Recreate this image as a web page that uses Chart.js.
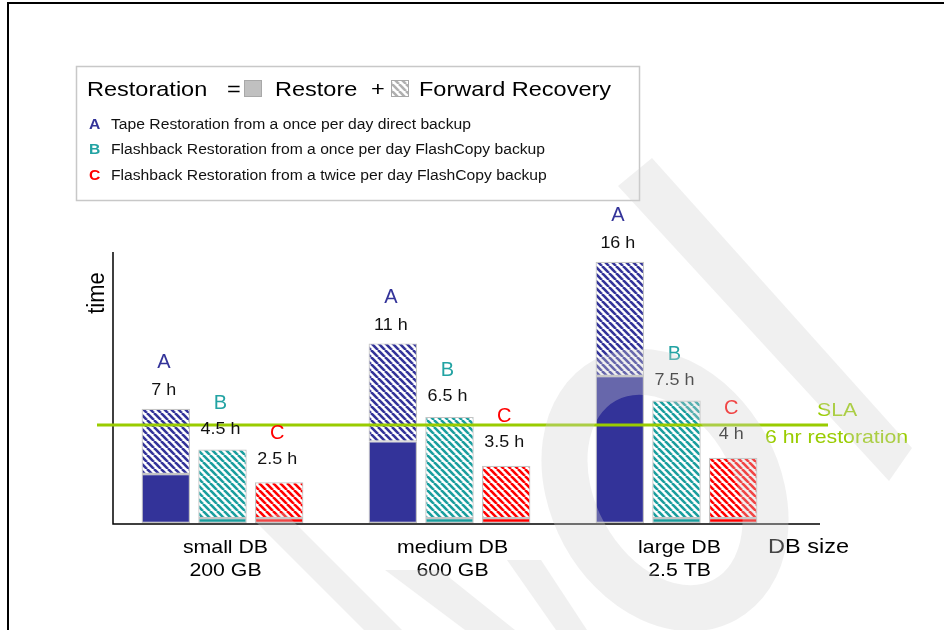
<!DOCTYPE html>
<html>
<head>
<meta charset="utf-8">
<script src="https://cdn.jsdelivr.net/npm/chart.js@4.4.1/dist/chart.umd.min.js"></script>
<style>
  html, body { margin: 0; padding: 0; background: #fff; }
</style>
</head>
<body>
<canvas id="restore" width="944" height="630"></canvas>
<script>
// horas de restauracion por tamano de base de datos
var categorias = [["small DB", "200 GB"], ["medium DB", "600 GB"], ["large DB", "2.5 TB"]];
var series = ["A", "B", "C"];
var totalA = [7, 11, 16];
var totalB = [4.5, 6.5, 7.5];
var totalC = [2.5, 3.5, 4];
var restoreA = [3, 5, 9];
var restoreB = [0.3, 0.3, 0.3];
var restoreC = [0.3, 0.3, 0.3];
var sla = 6;
var descripciones = [
  "Tape Restoration from a once per day direct backup",
  "Flashback Restoration from a once per day FlashCopy backup",
  "Flashback Restoration from a twice per day FlashCopy backup"
];

var colores = ["#333399", "#1a9e9e", "#ff0000"];
var coloresLetra = ["#333399", "#22a3a3", "#ff0000"];
var FUENTE = "'Liberation Sans', Arial, sans-serif";

function recuperacion(total, restore) {
  return total.map(function (t, i) { return t - restore[i]; });
}

function rayado(color, fondo) {
  var n = 7;
  var c = document.createElement("canvas");
  c.width = n; c.height = n;
  var g = c.getContext("2d");
  g.fillStyle = fondo || "#fff";
  g.fillRect(0, 0, n, n);
  g.strokeStyle = color;
  g.lineWidth = 2.6;
  [-n, 0, n].forEach(function (k) {
    g.beginPath(); g.moveTo(k, 0); g.lineTo(k + n, n); g.stroke();
  });
  return g.createPattern(c, "repeat");
}

function texto(ctx, str, x, y, size, color, align, bold) {
  ctx.save();
  ctx.font = (bold ? "bold " : "") + size + "px " + FUENTE;
  ctx.fillStyle = color;
  ctx.textAlign = align || "left";
  ctx.textBaseline = "middle";
  ctx.translate(x, y);
  ctx.scale(1.12, 1);
  ctx.fillText(str, 0, 0);
  ctx.restore();
}

var ctx = document.getElementById("restore").getContext("2d");

var datasets = [];
[[restoreA, totalA], [restoreB, totalB], [restoreC, totalC]].forEach(function (par, i) {
  var comun = {
    stack: series[i],
    borderColor: "#c4c4c4",
    borderWidth: 1.2,
    borderSkipped: false,
    categoryPercentage: 0.749,
    barPercentage: 0.855
  };
  datasets.push(Object.assign({ label: "Restore " + series[i], data: par[0], backgroundColor: colores[i] }, comun));
  datasets.push(Object.assign({ label: "Forward Recovery " + series[i], data: recuperacion(par[1], par[0]), backgroundColor: rayado(colores[i]) }, comun));
});

var decorado = {
  id: "decorado",
  beforeDraw: function (chart) {
    var c = chart.ctx;
    c.save();
    c.fillStyle = "#fff";
    c.fillRect(0, 0, chart.width, chart.height);
    // marco
    c.strokeStyle = "#000";
    c.lineWidth = 2;
    c.beginPath(); c.moveTo(8, 630); c.lineTo(8, 3); c.lineTo(944, 3); c.stroke();
    // ejes
    var y0 = chart.scales.y.getPixelForValue(0);
    c.lineWidth = 1.5;
    c.beginPath();
    c.moveTo(113, chart.chartArea.top); c.lineTo(113, y0 + 1); c.lineTo(820, y0 + 1);
    c.stroke();
    c.restore();
  },
  afterDraw: function (chart) {
    var c = chart.ctx;
    var ys = chart.scales.y;

    // linea SLA
    var ySla = ys.getPixelForValue(sla);
    c.save();
    c.strokeStyle = "#99cc00";
    c.lineWidth = 3;
    c.beginPath(); c.moveTo(97, ySla); c.lineTo(828, ySla); c.stroke();
    c.restore();
    texto(c, "SLA", 817, ySla - 14, 19, "#99cc00");
    texto(c, "6 hr restoration", 765, ySla + 13, 19, "#99cc00");

    // etiquetas sobre cada barra
    var desp = [[18, 46], [20, 46], [23, 49]];
    series.forEach(function (s, i) {
      var meta = chart.getDatasetMeta(i * 2 + 1);
      var totales = [totalA, totalB, totalC][i];
      meta.data.forEach(function (bar, j) {
        texto(c, totales[j] + " h", bar.x - 2, bar.y - desp[i][0], 16, "#111", "center");
        c.save();
        c.font = "20px " + FUENTE;
        c.fillStyle = coloresLetra[i];
        c.textAlign = "center";
        c.textBaseline = "middle";
        c.fillText(s, bar.x - 2, bar.y - desp[i][1]);
        c.restore();
      });
    });

    // categorias del eje x
    var xs = chart.scales.x;
    categorias.forEach(function (cat, j) {
      var x = xs.getPixelForValue(j) + 3;
      texto(c, cat[0], x, 548, 19, "#000", "center");
      texto(c, cat[1], x, 571, 19, "#000", "center");
    });
    texto(c, "DB size", 768, 547, 21, "#000");

    c.save();
    c.translate(97, 293);
    c.rotate(-Math.PI / 2);
    c.font = "22px " + FUENTE;
    c.fillStyle = "#000";
    c.textAlign = "center";
    c.textBaseline = "middle";
    c.scale(1, 1.1);
    c.fillText("time", 0, 0);
    c.restore();

    // leyenda
    c.save();
    c.strokeStyle = "#c8c8c8";
    c.lineWidth = 1.5;
    c.strokeRect(76.5, 66.5, 563, 134);
    c.fillStyle = "#c0c0c0";
    c.fillRect(244, 80, 18, 17);
    c.strokeStyle = "#a8a8a8";
    c.lineWidth = 1;
    c.strokeRect(244.5, 80.5, 17, 16);
    c.fillStyle = rayado("#b0b0b0");
    c.fillRect(391, 80, 18, 17);
    c.strokeRect(391.5, 80.5, 17, 16);
    c.restore();
    texto(c, "Restoration", 87, 90, 21, "#000");
    texto(c, "=", 227, 90, 21, "#000");
    texto(c, "Restore", 275, 90, 21, "#000");
    texto(c, "+", 371, 90, 21, "#000");
    texto(c, "Forward Recovery", 419, 90, 21, "#000");
    descripciones.forEach(function (d, i) {
      var y = 125 + i * 25.5;
      texto(c, series[i], 89, y, 14, coloresLetra[i], "left", true);
      texto(c, d, 111, y, 14, "#111");
    });

    // marca de agua
    c.save();
    c.fillStyle = "rgba(210,210,210,0.33)";
    c.strokeStyle = "rgba(210,210,210,0.33)";
    [
      [[618, 186], [652, 158], [912, 448], [889, 481]],
      [[254, 520], [284, 512], [402, 630], [364, 630]],
      [[385, 570], [440, 570], [515, 630], [465, 630]],
      [[507, 560], [541, 560], [587, 630], [556, 630]]
    ].forEach(function (p) {
      c.beginPath();
      c.moveTo(p[0][0], p[0][1]);
      for (var k = 1; k < p.length; k++) c.lineTo(p[k][0], p[k][1]);
      c.closePath();
      c.fill();
    });
    c.lineWidth = 46;
    c.beginPath();
    c.ellipse(665, 490, 92, 125, -0.5, 0, Math.PI * 2);
    c.stroke();
    c.restore();
  }
};

new Chart(ctx, {
  type: "bar",
  data: { labels: categorias, datasets: datasets },
  options: {
    responsive: false,
    devicePixelRatio: 1,
    animation: false,
    layout: { padding: { left: 109, right: 154, top: 252, bottom: 107 } },
    plugins: { legend: { display: false }, tooltip: { enabled: false } },
    scales: {
      x: { display: false, stacked: true },
      y: { display: false, stacked: true, min: 0, max: 16.6 }
    }
  },
  plugins: [decorado]
});
</script>
</body>
</html>
